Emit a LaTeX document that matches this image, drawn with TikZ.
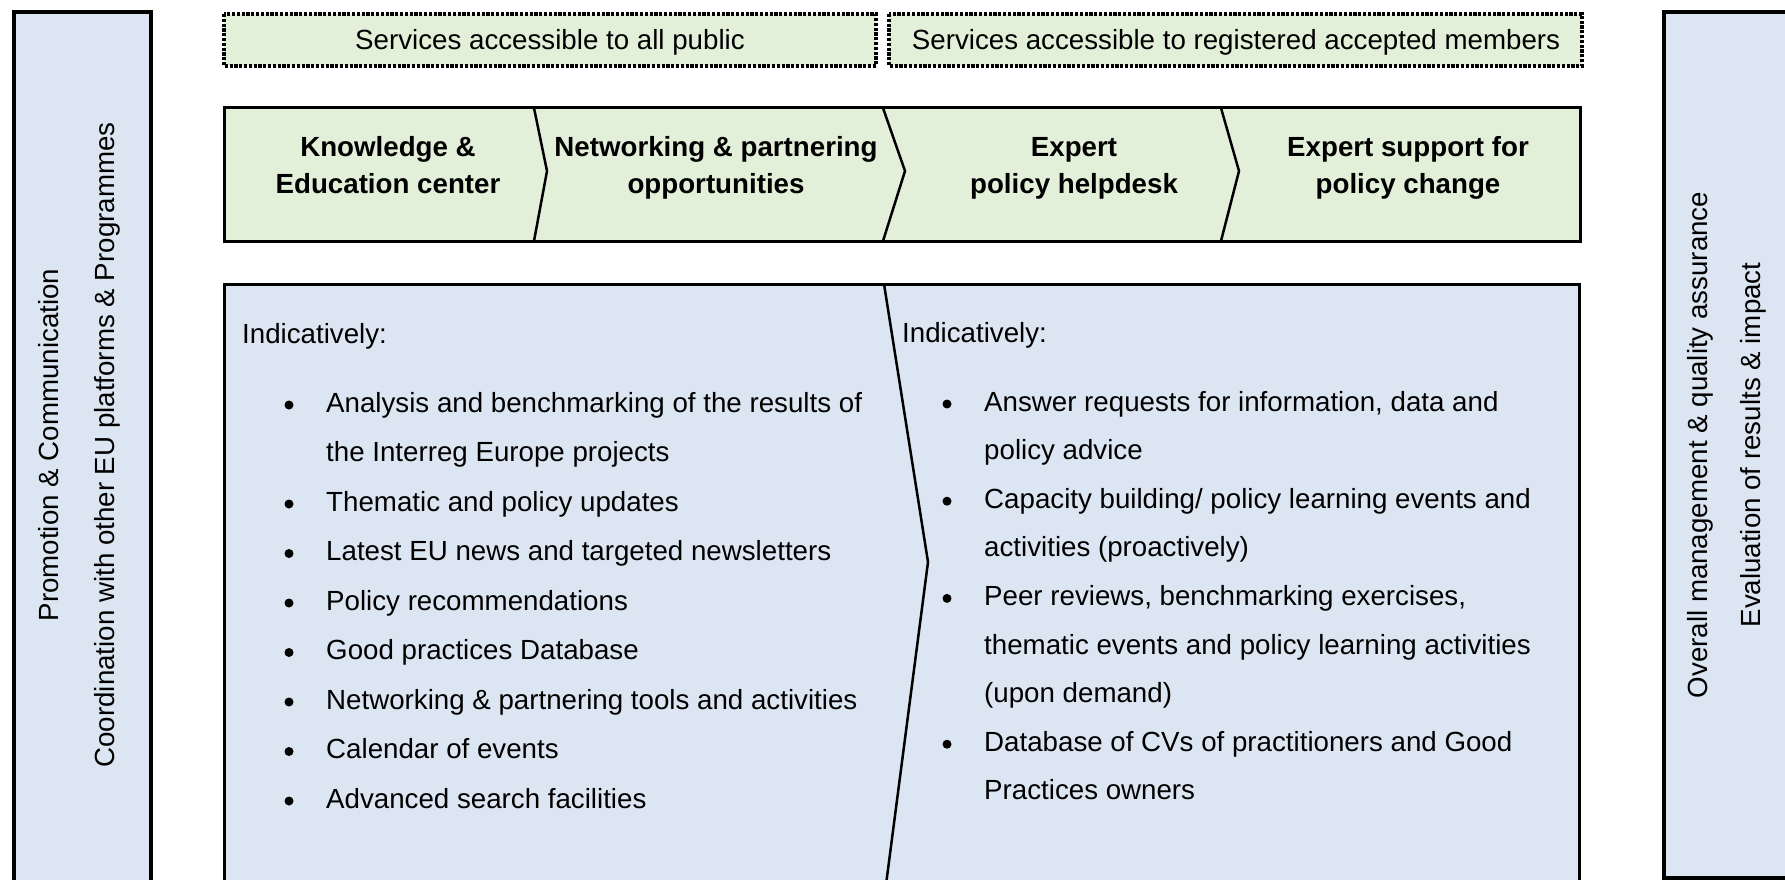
\documentclass[tikz,border=0pt]{standalone}
\usepackage{fontspec}
\setmainfont{Liberation Sans}
\definecolor{pblue}{HTML}{DCE6F2}
\definecolor{pgreen}{HTML}{E2EFD9}
\begin{document}
\begin{tikzpicture}[x=1pt,y=-1pt,
  txt/.style={inner sep=0pt, font=\fontsize{27.7}{33}\selectfont},
  btxt/.style={inner sep=0pt, font=\fontsize{27.7}{33}\selectfont\bfseries},
  sidebox/.style={fill=pblue, draw=black, line width=3.5pt},
  mainbox/.style={fill=pblue, draw=black, line width=3pt},
  rowbox/.style={fill=pgreen, draw=black, line width=3pt},
  dotbox/.style={fill=pgreen, draw=black, line width=3.2pt, dash pattern=on 3.2pt off 1.6pt},
  divline/.style={draw=black, line width=2.5pt, line join=miter},
  bul/.style={circle, fill=black, inner sep=0pt, minimum size=9pt}
]
\useasboundingbox (0,0) rectangle (1785,880);
\clip (0,0) rectangle (1785,880);
\fill[white] (0,0) rectangle (1785,880);

% side boxes
\filldraw[sidebox] (14,12) rectangle (151,900);
\filldraw[sidebox] (1664,12) rectangle (1800,878);

% dotted header boxes
\filldraw[dotbox] (224,14) rectangle (876,66);
\filldraw[dotbox] (889,14) rectangle (1582,66);

% chevron row
\filldraw[rowbox] (224,108) rectangle (1580,241);
\draw[divline] (534,108) -- (547,171) -- (534,241);
\draw[divline] (883,108) -- (905,171) -- (883,241);
\draw[divline] (1221,108) -- (1239,171) -- (1221,241);

% main box
\filldraw[mainbox] (224,284) rectangle (1579,900);
\draw[divline] (884,284) -- (928,562) -- (884,900);

% header texts
\node[txt, anchor=base] (pub) at (550,50) {Services accessible to all public};
\node[txt, anchor=base] (reg) at (1236,50) {Services accessible to registered accepted members};

% chevron labels
\node[btxt, anchor=base] (c1a) at (388,157) {Knowledge \&};
\node[btxt, anchor=base] (c1b) at (388,193) {Education center};
\node[btxt, anchor=base] (c2a) at (716,157) {Networking \& partnering};
\node[btxt, anchor=base] (c2b) at (716,193) {opportunities};
\node[btxt, anchor=base] (c3a) at (1074,157) {Expert};
\node[btxt, anchor=base] (c3b) at (1074,193) {policy helpdesk};
\node[btxt, anchor=base] (c4a) at (1408,157) {Expert support for};
\node[btxt, anchor=base] (c4b) at (1408,193) {policy change};

% side vertical texts
\node[txt, rotate=90, anchor=base] (promo) at (58,445) {Promotion \& Communication};
\node[txt, rotate=90, anchor=base] (coord) at (114,445) {Coordination with other EU platforms \& Programmes};
\node[txt, rotate=90, anchor=base] (overall) at (1707,445) {Overall management \& quality assurance};
\node[txt, rotate=90, anchor=base] (eval) at (1760,445) {Evaluation of results \& impact};

% left list
\node[txt, anchor=base west] (lind) at (242,343) {Indicatively:};
\node[bul] (lb1) at (289,405) {};
\node[txt, anchor=base west] (l1) at (326,412) {Analysis and benchmarking of the results of};
\node[txt, anchor=base west] (l1b) at (326,461.5) {the Interreg Europe projects};
\node[bul] (lb2) at (289,504) {};
\node[txt, anchor=base west] (l2) at (326,511) {Thematic and policy updates};
\node[bul] (lb3) at (289,553.5) {};
\node[txt, anchor=base west] (l3) at (326,560.5) {Latest EU news and targeted newsletters};
\node[bul] (lb4) at (289,603) {};
\node[txt, anchor=base west] (l4) at (326,610) {Policy recommendations};
\node[bul] (lb5) at (289,652.5) {};
\node[txt, anchor=base west] (l5) at (326,659.5) {Good practices Database};
\node[bul] (lb6) at (289,702) {};
\node[txt, anchor=base west] (l6) at (326,709) {Networking \& partnering tools and activities};
\node[bul] (lb7) at (289,751.5) {};
\node[txt, anchor=base west] (l7) at (326,758.5) {Calendar of events};
\node[bul] (lb8) at (289,801) {};
\node[txt, anchor=base west] (l8) at (326,808) {Advanced search facilities};

% right list
\node[txt, anchor=base west] (rind) at (902,342) {Indicatively:};
\node[bul] (rb1) at (947,404) {};
\node[txt, anchor=base west] (r1) at (984,411) {Answer requests for information, data and};
\node[txt, anchor=base west] (r1b) at (984,459.6) {policy advice};
\node[bul] (rb2) at (947,501.2) {};
\node[txt, anchor=base west] (r2) at (984,508.2) {Capacity building/ policy learning events and};
\node[txt, anchor=base west] (r2b) at (984,556.8) {activities (proactively)};
\node[bul] (rb3) at (947,598.4) {};
\node[txt, anchor=base west] (r3) at (984,605.4) {Peer reviews, benchmarking exercises,};
\node[txt, anchor=base west] (r3b) at (984,654) {thematic events and policy learning activities};
\node[txt, anchor=base west] (r3c) at (984,702.6) {(upon demand)};
\node[bul] (rb4) at (947,744.2) {};
\node[txt, anchor=base west] (r4) at (984,751.2) {Database of CVs of practitioners and Good};
\node[txt, anchor=base west] (r4b) at (984,799.8) {Practices owners};
\end{tikzpicture}
\end{document}
